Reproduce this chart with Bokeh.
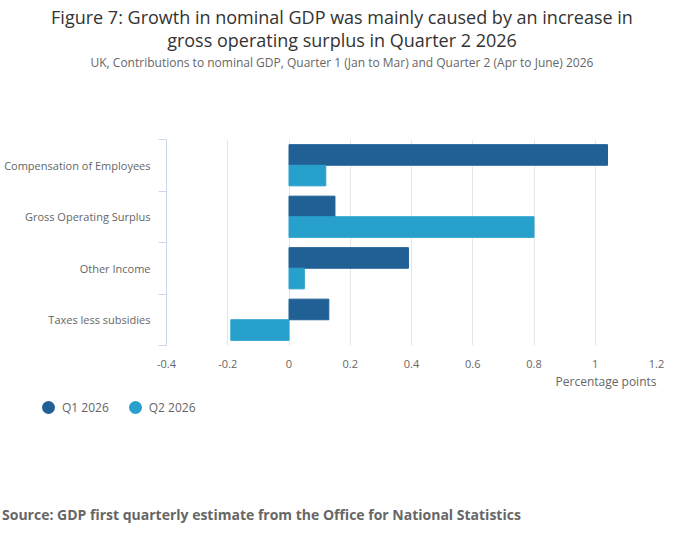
from bokeh.plotting import figure
from bokeh.models import Div, FixedTicker, Range1d, Title
from bokeh.layouts import column
from bokeh.embed import file_html
from bokeh.resources import INLINE

categories = ["Compensation of Employees", "Gross Operating Surplus", "Other Income", "Taxes less subsidies"]
q1 = [1.04, 0.15, 0.39, 0.13]
q2 = [0.12, 0.80, 0.05, -0.19]
series_names = ["Q1 2026", "Q2 2026"]
x_ticks = [-0.4, -0.2, 0, 0.2, 0.4, 0.6, 0.8, 1.0, 1.2]
colors = ["#206095", "#27a0cc"]

FONT = "Open Sans"
centers = [len(categories) - 0.5 - i for i in range(len(categories))]

title = Div(text="<div style='font-family:Open Sans;font-size:18px;color:#333;text-align:center;line-height:23px;width:684px'>Figure 7: Growth in nominal GDP was mainly caused by an increase in<br>gross operating surplus in Quarter 2 2026</div>",
            width=684, height=48, margin=(6, 0, 0, 0))
sub = Div(text="<div style='font-family:Open Sans;font-size:12px;color:#666;text-align:center;width:684px'>UK, Contributions to nominal GDP, Quarter 1 (Jan to Mar) and Quarter 2 (Apr to June) 2026</div>",
          width=684, height=20, margin=(0, 0, 0, 0))

p = figure(width=684, height=315, output_backend="svg", toolbar_location=None,
           x_range=Range1d(-0.4, 1.2), y_range=Range1d(0, len(categories)),
           min_border_left=166, min_border_right=28, min_border_top=65, min_border_bottom=0)
p.outline_line_color = None

p.hbar(y=[c + 0.2 for c in centers], right=q1, left=0, height=0.4, color=colors[0])
p.hbar(y=[c - 0.2 for c in centers], right=q2, left=0, height=0.4, color=colors[1])

p.xaxis.ticker = FixedTicker(ticks=x_ticks)
p.xaxis.major_label_overrides = {-0.4: "-0.4", -0.2: "-0.2", 0: "0", 0.2: "0.2", 0.4: "0.4", 0.6: "0.6", 0.8: "0.8", 1.0: "1", 1.2: "1.2"}
p.xaxis.axis_line_color = None
p.xaxis.major_tick_line_color = None
p.xaxis.minor_tick_line_color = None
p.xaxis.major_label_text_font = FONT
p.xaxis.major_label_text_font_size = "11px"
p.xaxis.major_label_text_color = "#666"
p.xaxis.major_label_standoff = 8
p.add_layout(Title(text="Percentage points", align="right", text_font=FONT, text_font_style="normal",
                   text_font_size="12px", text_color="#666", standoff=0), "below")

p.yaxis.ticker = FixedTicker(ticks=centers, minor_ticks=list(range(len(categories) + 1)))
p.yaxis.major_label_overrides = {c: n for c, n in zip(centers, categories)}
p.yaxis.major_tick_line_color = None
p.yaxis.minor_tick_out = 8
p.yaxis.minor_tick_in = 0
p.yaxis.minor_tick_line_color = "#ccd6eb"
p.yaxis.axis_line_color = "#ccd6eb"
p.yaxis.major_label_text_font = FONT
p.yaxis.major_label_text_font_size = "11px"
p.yaxis.major_label_text_color = "#666"
p.yaxis.major_label_standoff = 8

p.ygrid.grid_line_color = None
p.xgrid.grid_line_color = "#e6e6e6"

items = "".join(
    f"<span style='display:inline-flex;align-items:center;margin-right:20px'><span style='display:inline-block;width:13px;height:13px;border-radius:50%;background:{c};margin-right:7px'></span>{n}</span>"
    for n, c in zip(series_names, colors))
leg = Div(text=f"<div style='font-family:Open Sans;font-size:12px;color:#666;padding-left:42px'>{items}</div>",
          width=684, height=20, margin=(10, 0, 0, 0))
src = Div(text="<div style='font-family:Open Sans;font-size:14px;font-weight:bold;color:#666;padding-left:2px'>Source: GDP first quarterly estimate from the Office for National Statistics</div>",
          width=684, height=24, margin=(86, 0, 0, 0))

layout = column(title, sub, p, leg, src, spacing=0)
open("out.html", "w").write(file_html(layout, INLINE))
